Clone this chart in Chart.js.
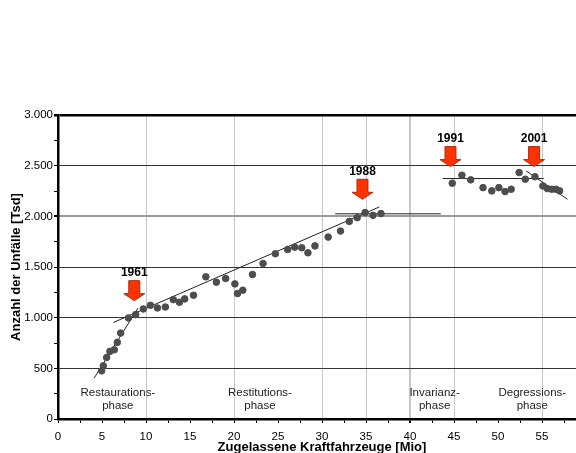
<!DOCTYPE html>
<html>
<head>
<meta charset="utf-8">
<script src="https://cdn.jsdelivr.net/npm/chart.js@4/dist/chart.umd.min.js"></script>
<style>
	html, body { margin: 0; padding: 0; background: #fff; overflow: hidden; }
	#chart { display: block; }
</style>
</head>
<body>
<canvas id="chart" width="600" height="453"></canvas>
<script>
/* Unfaelle vs. zugelassene Kfz */
var kfz = [4.96, 5.15, 5.53, 5.9, 6.4, 6.74, 7.12, 8.0, 8.83, 9.7, 10.5, 11.3, 12.2, 13.1, 13.8, 14.4,
	15.4, 16.8, 18.0, 19.05, 20.1, 20.4, 21.0, 22.1, 23.3, 24.7, 26.1, 26.9, 27.7, 28.4, 29.2, 30.7,
	32.1, 33.1, 34.0, 34.9, 35.8, 36.7, 44.8, 45.9, 46.9, 48.3, 49.3, 50.1, 50.8, 51.5, 52.4, 53.1,
	54.2, 55.1, 55.6, 56.1, 56.6, 57.0];
var unfaelle = [475, 525, 607, 667, 683, 756, 848, 997, 1030, 1086, 1122, 1096, 1105, 1178, 1152, 1185,
	1221, 1403, 1350, 1386, 1333, 1238, 1271, 1426, 1535, 1631, 1673, 1696, 1690, 1640, 1708, 1795,
	1855, 1950, 1987, 2037, 2010, 2027, 2327, 2406, 2360, 2283, 2251, 2283, 2244, 2267, 2432, 2366,
	2390, 2300, 2274, 2267, 2267, 2251];

/* trend lines: [x0, y0, x1, y1] */
var trendRestauration = [4.1, 403, 9.1, 1096];
var trendRestitution = [6.3, 953, 36.5, 2092];
var trend1988 = [31.5, 2025, 43.5, 2025];
var trend1991 = [43.7, 2373, 55.2, 2373];
var trend2001 = [53.2, 2448, 57.9, 2168];

/* arrows */
var arrowYears = ['1961', '1988', '1991', '2001'];
var arrowX = [8.67, 34.6, 44.6, 54.1];
var arrowTipY = [1168, 2168, 2491, 2491];

/* phase labels */
var phaseLines1 = ['Restaurations-', 'Restitutions-', 'Invarianz-', 'Degressions-'];
var phaseLines2 = ['phase', 'phase', 'phase', 'phase'];
var phaseX = [6.8, 22.95, 42.8, 53.9];
var phaseY = 257;

var xGridMarks = [10, 20, 30, 35, 40, 45, 55];

var FONT = '"Liberation Sans", Arial, sans-serif';

function points(xs, ys) {
	var out = [];
	for (var i = 0; i < xs.length; i++) out.push({x: xs[i], y: ys[i]});
	return out;
}
function seg(t) {
	return [{x: t[0], y: t[1]}, {x: t[2], y: t[3]}];
}
function lineSet(t) {
	return {
		type: 'line',
		data: seg(t),
		borderColor: '#222',
		borderWidth: 1,
		pointRadius: 0,
		fill: false,
		tension: 0
	};
}
function fmtThousand(v) {
	if (v >= 1000) return Math.floor(v / 1000) + '.' + String(v % 1000).padStart(3, '0');
	return String(v);
}

var annotations = {
	id: 'annotations',
	afterDatasetsDraw: function (chart) {
		var ctx = chart.ctx;
		var xs = chart.scales.x, ys = chart.scales.y;
		ctx.save();
		/* arrows */
		for (var i = 0; i < arrowYears.length; i++) {
			var cx = xs.getPixelForValue(arrowX[i]);
			var tip = ys.getPixelForValue(arrowTipY[i]);
			var headH = 7, shaftH = 13, headW = 10.5, shaftW = 5.5;
			var top = tip - headH - shaftH;
			ctx.beginPath();
			ctx.moveTo(cx - shaftW, top);
			ctx.lineTo(cx + shaftW, top);
			ctx.lineTo(cx + shaftW, tip - headH);
			ctx.lineTo(cx + headW, tip - headH);
			ctx.lineTo(cx, tip);
			ctx.lineTo(cx - headW, tip - headH);
			ctx.lineTo(cx - shaftW, tip - headH);
			ctx.closePath();
			ctx.fillStyle = '#ff3300';
			ctx.fill();
			ctx.strokeStyle = '#b02a10';
			ctx.lineWidth = 1;
			ctx.stroke();
			ctx.fillStyle = '#000';
			ctx.font = 'bold 12px ' + FONT;
			ctx.textAlign = 'center';
			ctx.textBaseline = 'middle';
			ctx.fillText(arrowYears[i], cx, top - 8);
		}
		/* phase labels */
		ctx.font = '11.5px ' + FONT;
		ctx.fillStyle = '#222';
		ctx.textAlign = 'center';
		ctx.textBaseline = 'middle';
		for (var j = 0; j < phaseLines1.length; j++) {
			var px = xs.getPixelForValue(phaseX[j]);
			var py = ys.getPixelForValue(phaseY);
			ctx.fillText(phaseLines1[j], px, py);
			ctx.fillText(phaseLines2[j], px, py + 13);
		}
		ctx.restore();
	}
};

new Chart(document.getElementById('chart').getContext('2d'), {
	type: 'scatter',
	data: {
		datasets: [{
			label: 'Unfälle',
			data: points(kfz, unfaelle),
			backgroundColor: '#4d4d4d',
			borderColor: '#4d4d4d',
			pointRadius: 3.3,
			pointHoverRadius: 3.3
		},
			lineSet(trendRestauration),
			lineSet(trendRestitution),
			lineSet(trend1988),
			lineSet(trend1991),
			lineSet(trend2001)
		]
	},
	options: {
		responsive: false,
		animation: false,
		layout: {
			padding: {top: 115, right: 14, bottom: 0, left: 0}
		},
		plugins: {
			legend: {display: false},
			tooltip: {enabled: false}
		},
		scales: {
			x: {
				type: 'linear',
				min: 0,
				max: 60,
				afterFit: function (s) { s.height = 34; },
				border: {display: true, color: '#000', width: 2.5},
				grid: {
					color: function (c) {
						return xGridMarks.indexOf(c.tick.value) >= 0 ? '#c8c8c8' : 'rgba(0,0,0,0)';
					},
					lineWidth: function (c) { return c.tick.value === 40 ? 2 : 1; },
					tickColor: '#000',
					tickLength: 4
				},
				ticks: {
					stepSize: 2.5,
					autoSkip: false,
					maxRotation: 0,
					padding: 7,
					color: '#000',
					font: {family: FONT, size: 11.5},
					callback: function (v) { return v % 5 === 0 ? String(v) : ''; }
				},
				title: {
					display: true,
					text: 'Zugelassene Kraftfahrzeuge [Mio]',
					color: '#000',
					font: {family: FONT, size: 13, weight: 'bold'},
					padding: {top: 0, bottom: -2}
				}
			},
			y: {
				min: 0,
				max: 3000,
				afterFit: function (s) { s.width = 58; },
				border: {display: true, color: '#000', width: 2.5},
				grid: {
					color: function (c) {
						var v = c.tick.value;
						if (v === 0 || v % 500 !== 0) return 'rgba(0,0,0,0)';
						if (v === 3000) return '#000';
						if (v === 2000) return '#999';
						return '#333';
					},
					lineWidth: function (c) {
						var v = c.tick.value;
						if (v === 3000) return 2.5;
						if (v === 2000) return 2;
						return 1;
					},
					tickColor: '#000',
					tickLength: 4
				},
				ticks: {
					stepSize: 250,
					autoSkip: false,
					padding: 1,
					color: '#000',
					font: {family: FONT, size: 11.5},
					callback: function (v) { return v % 500 === 0 ? fmtThousand(v) : ''; }
				},
				title: {
					display: true,
					text: 'Anzahl der Unfälle [Tsd]',
					color: '#000',
					font: {family: FONT, size: 13, weight: 'bold'},
					padding: {top: 9, bottom: 0}
				}
			}
		}
	},
	plugins: [annotations]
});
</script>
</body>
</html>
